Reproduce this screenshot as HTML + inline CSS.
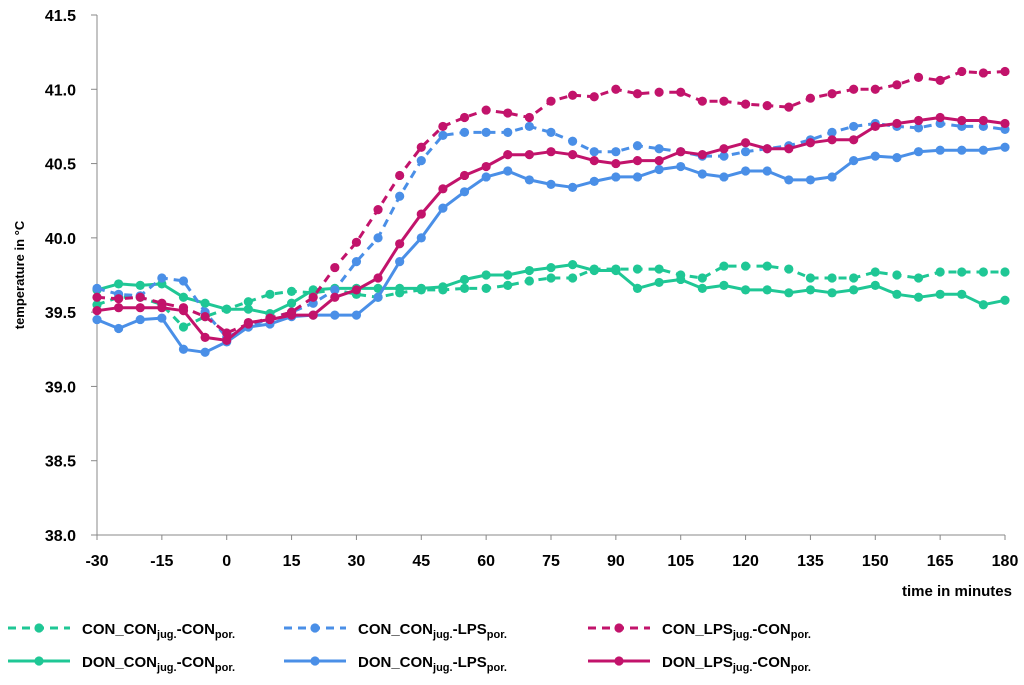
<!DOCTYPE html>
<html><head><meta charset="utf-8"><style>
body{margin:0;background:#fff;font-family:"Liberation Sans",Arial,sans-serif;}
svg text{font-family:"Liberation Sans",Arial,sans-serif;font-weight:bold;fill:#000;}
</style></head><body>
<svg id="chart" width="1024" height="680" viewBox="0 0 1024 680" xmlns="http://www.w3.org/2000/svg">
<g id="axes"></g>
<g id="series"></g>
<g id="legend"></g>
</svg>
<script>
const times=[-30,-25,-20,-15,-10,-5,0,5,10,15,20,25,30,35,40,45,50,55,60,65,70,75,80,85,90,95,100,105,110,115,120,125,130,135,140,145,150,155,160,165,170,175,180];
const xTicks=[-30,-15,0,15,30,45,60,75,90,105,120,135,150,165,180];
const yTicks=[38.0,38.5,39.0,39.5,40.0,40.5,41.0,41.5];
const conConCon=[39.55,39.6,39.6,39.55,39.4,39.47,39.52,39.57,39.62,39.64,39.63,39.65,39.62,39.6,39.63,39.65,39.65,39.66,39.66,39.68,39.71,39.73,39.73,39.79,39.79,39.79,39.79,39.75,39.73,39.81,39.81,39.81,39.79,39.73,39.73,39.73,39.77,39.75,39.73,39.77,39.77,39.77,39.77];
const donConCon=[39.65,39.69,39.68,39.69,39.6,39.56,39.52,39.52,39.49,39.56,39.65,39.66,39.66,39.66,39.66,39.66,39.67,39.72,39.75,39.75,39.78,39.8,39.82,39.78,39.78,39.66,39.7,39.72,39.66,39.68,39.65,39.65,39.63,39.65,39.63,39.65,39.68,39.62,39.6,39.62,39.62,39.55,39.58];
const conConLps=[39.66,39.62,39.61,39.73,39.71,39.5,39.33,39.4,39.46,39.5,39.56,39.65,39.84,40.0,40.28,40.52,40.69,40.71,40.71,40.71,40.75,40.71,40.65,40.58,40.58,40.62,40.6,40.58,40.55,40.55,40.58,40.6,40.62,40.66,40.71,40.75,40.77,40.75,40.74,40.77,40.75,40.75,40.73];
const donConLps=[39.45,39.39,39.45,39.46,39.25,39.23,39.3,39.4,39.42,39.47,39.48,39.48,39.48,39.6,39.84,40.0,40.2,40.31,40.41,40.45,40.39,40.36,40.34,40.38,40.41,40.41,40.46,40.48,40.43,40.41,40.45,40.45,40.39,40.39,40.41,40.52,40.55,40.54,40.58,40.59,40.59,40.59,40.61];
const conLpsCon=[39.6,39.59,39.6,39.56,39.53,39.47,39.36,39.42,39.46,39.5,39.6,39.8,39.97,40.19,40.42,40.61,40.75,40.81,40.86,40.84,40.81,40.92,40.96,40.95,41.0,40.97,40.98,40.98,40.92,40.92,40.9,40.89,40.88,40.94,40.97,41.0,41.0,41.03,41.08,41.06,41.12,41.11,41.12];
const donLpsCon=[39.51,39.53,39.53,39.53,39.51,39.33,39.31,39.43,39.45,39.48,39.48,39.6,39.65,39.73,39.96,40.16,40.33,40.42,40.48,40.56,40.56,40.58,40.56,40.52,40.5,40.52,40.52,40.58,40.56,40.6,40.64,40.6,40.6,40.64,40.66,40.66,40.75,40.77,40.79,40.81,40.79,40.79,40.77];

const NS="http://www.w3.org/2000/svg";
const X0=97,X1=1005,Y0=535,Y1=15;
const xs=t=>X0+(t+30)/210*(X1-X0);
const ys=v=>Y0-(v-38)/3.5*(Y0-Y1);
function mk(tag,attrs,parent){const e=document.createElementNS(NS,tag);for(const k in attrs)e.setAttribute(k,attrs[k]);parent.appendChild(e);return e;}
const axes=document.getElementById('axes');
let a=mk('line',{x1:X0,y1:Y1,x2:X0,y2:Y0,stroke:'#888','stroke-width':1},axes);


a=mk('line',{x1:X0,y1:Y0,x2:X1,y2:Y0,stroke:'#888','stroke-width':1},axes);


yTicks.forEach(v=>{
  const tk=mk('line',{x1:X0-6,y1:ys(v),x2:X0,y2:ys(v),stroke:'#888'},axes);
  
  
  const t=mk('text',{x:76,y:ys(v)+6,'text-anchor':'end','font-size':16},axes);
  t.textContent=v.toFixed(1);
  
  
});
xTicks.forEach(v=>{
  const tk=mk('line',{x1:xs(v),y1:Y0,x2:xs(v),y2:Y0+5,stroke:'#888'},axes);
  
  
  const t=mk('text',{x:xs(v),y:566,'text-anchor':'middle','font-size':16},axes);
  t.textContent=v;
  
  
});
let tt=mk('text',{x:1012,y:596,'text-anchor':'end','font-size':15},axes);
tt.textContent='time in minutes';


tt=mk('text',{x:0,y:0,'text-anchor':'middle','font-size':13,transform:'translate(24,275) rotate(-90)'},axes);
tt.textContent='temperature in °C';



const GREEN='#1fc795',BLUE='#4a8fe7',MAG='#c2136b';
const defs=[
 {d:conConCon,c:GREEN,dash:true,name:'con-con-con',p:'CON_CON',s1:'jug.',m:'-CON',s2:'por.',lx:8,ly:628},
 {d:donConCon,c:GREEN,dash:false,name:'don-con-con',p:'DON_CON',s1:'jug.',m:'-CON',s2:'por.',lx:8,ly:661},
 {d:conConLps,c:BLUE,dash:true,name:'con-con-lps',p:'CON_CON',s1:'jug.',m:'-LPS',s2:'por.',lx:284,ly:628},
 {d:donConLps,c:BLUE,dash:false,name:'don-con-lps',p:'DON_CON',s1:'jug.',m:'-LPS',s2:'por.',lx:284,ly:661},
 {d:conLpsCon,c:MAG,dash:true,name:'con-lps-con',p:'CON_LPS',s1:'jug.',m:'-CON',s2:'por.',lx:588,ly:628},
 {d:donLpsCon,c:MAG,dash:false,name:'don-lps-con',p:'DON_LPS',s1:'jug.',m:'-CON',s2:'por.',lx:588,ly:661}
];
const ser=document.getElementById('series'),leg=document.getElementById('legend');
defs.forEach(s=>{
  const g=mk('g',{},ser);
  
  
  const pts=s.d.map((v,i)=>xs(times[i]).toFixed(1)+','+ys(v).toFixed(1)).join(' ');
  const pl=mk('polyline',{points:pts,fill:'none',stroke:s.c,'stroke-width':3,'stroke-dasharray':s.dash?'8,6':'none','stroke-linejoin':'round'},g);
  
  
  s.d.forEach((v,i)=>{
    const c=mk('circle',{cx:xs(times[i]),cy:ys(v),r:4.6,fill:s.c},g);
    
    
  });
  const lg=mk('g',{},leg);
  
  
  mk('line',{x1:s.lx,y1:s.ly,x2:s.lx+62,y2:s.ly,stroke:s.c,'stroke-width':3,'stroke-dasharray':s.dash?'8,6':'none'},lg);
  mk('circle',{cx:s.lx+31,cy:s.ly,r:4.6,fill:s.c},lg);
  const t=mk('text',{x:s.lx+74,y:s.ly+6,'font-size':15},lg);
  t.innerHTML=s.p+'<tspan font-size="11" dy="4">'+s.s1+'</tspan><tspan dy="-4">'+s.m+'</tspan><tspan font-size="11" dy="4">'+s.s2+'</tspan>';
});
</script>
</body></html>
